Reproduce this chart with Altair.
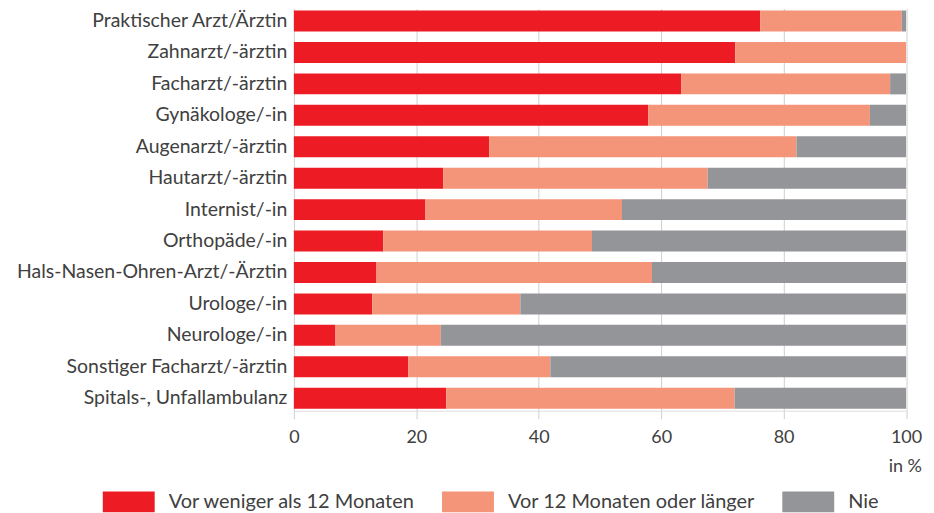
import altair as alt
import pandas as pd

categories = [
    "Praktischer Arzt/Ärztin",
    "Zahnarzt/-ärztin",
    "Facharzt/-ärztin",
    "Gynäkologe/-in",
    "Augenarzt/-ärztin",
    "Hautarzt/-ärztin",
    "Internist/-in",
    "Orthopäde/-in",
    "Hals-Nasen-Ohren-Arzt/-Ärztin",
    "Urologe/-in",
    "Neurologe/-in",
    "Sonstiger Facharzt/-ärztin",
    "Spitals-, Unfallambulanz",
]
series = ["Vor weniger als 12 Monaten", "Vor 12 Monaten oder länger", "Nie"]
red = [76.2, 72.1, 63.3, 57.9, 31.9, 24.4, 21.5, 14.6, 13.5, 12.8, 6.8, 18.7, 24.9]
orange = [23.1, 27.9, 34.1, 36.2, 50.2, 43.2, 32.1, 34.1, 45.0, 24.2, 17.2, 23.2, 47.1]
gray = [0.7, 0.0, 2.6, 5.9, 17.9, 32.4, 46.4, 51.3, 41.5, 63.0, 76.0, 58.1, 28.0]
colors = ["#ED1C24", "#F4957A", "#939598"]
x_ticks = [0, 20, 40, 60, 80, 100]

rows = []
for i, c in enumerate(categories):
    for k, (s, vals) in enumerate(zip(series, [red, orange, gray])):
        rows.append({"cat": c, "series": s, "value": vals[i], "ord": k})
df = pd.DataFrame(rows)

FONT = "Lato"
TXT = "#404040"

chart = alt.Chart(df).mark_bar(strokeWidth=0).encode(
    y=alt.Y("cat:N", sort=categories,
            scale=alt.Scale(paddingInner=0.333, paddingOuter=0.063),
            axis=alt.Axis(title=None, ticks=False, domain=False, labelPadding=7,
                          labelFontSize=19.5, labelFont=FONT, labelColor=TXT,
                          labelLimit=400, grid=False)),
    x=alt.X("value:Q", stack="zero",
            scale=alt.Scale(domain=[0, 100], nice=False),
            axis=alt.Axis(values=x_ticks, title="in %", titleX=629, titleY=56,
                          titleAlign="right", titleBaseline="middle",
                          titleFont=FONT, titleFontSize=18, titleFontWeight="normal",
                          titleColor=TXT, labelFlush=False,
                          labelFont=FONT, labelFontSize=18, labelColor=TXT,
                          labelPadding=10, tickSize=8, tickColor="#cfcfcf",
                          domain=True, domainColor="#dddddd",
                          grid=True, gridColor="#cfcfcf", gridWidth=1)),
    color=alt.Color("series:N", sort=series,
                    scale=alt.Scale(domain=series, range=colors),
                    legend=alt.Legend(title=None, orient="none", direction="horizontal",
                                      legendX=-191.5, legendY=468,
                                      symbolType="M-1,-0.4L1,-0.4L1,0.4L-1,0.4Z",
                                      symbolSize=2704, symbolStrokeWidth=0,
                                      symbolOpacity=1,
                                      labelFont=FONT, labelFontSize=20, labelColor=TXT,
                                      labelLimit=400, labelOffset=14,
                                      columnPadding=26)),
    order=alt.Order("ord:Q"),
).properties(
    width=613.5, height=403,
    autosize=alt.AutoSizeParams(type="none"),
    padding={"left": 286.5, "top": 0, "right": 20, "bottom": 110},
).configure_view(stroke=None)

chart.save("out.html", embed_options={"renderer": "svg", "actions": False})
